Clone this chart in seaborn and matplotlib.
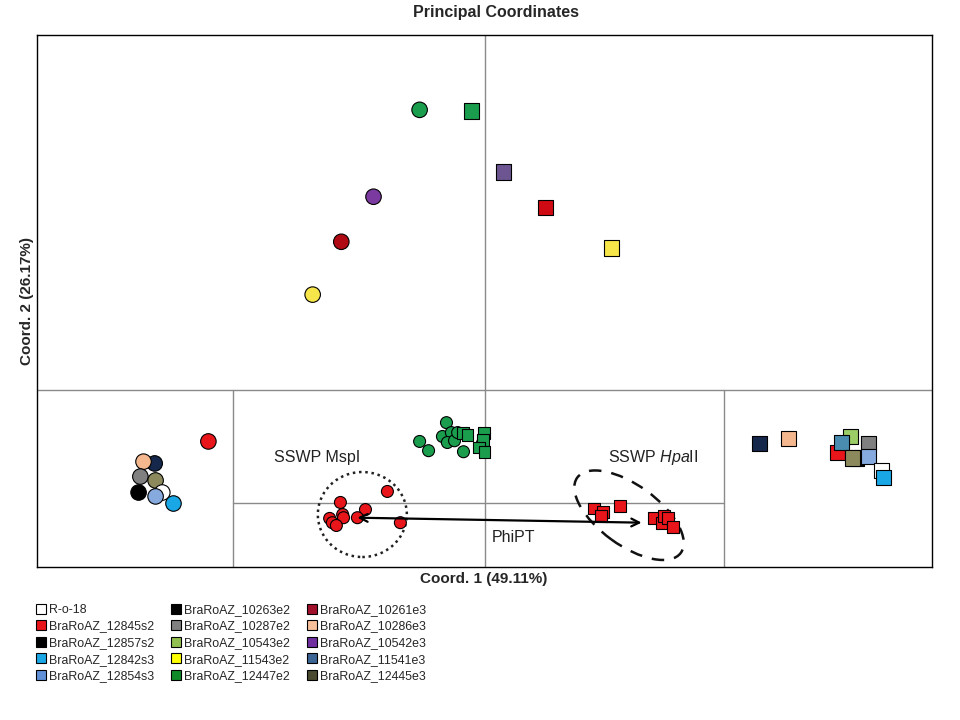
import matplotlib
matplotlib.use("Agg")
import pandas as pd
import seaborn as sns
import matplotlib.pyplot as plt
from matplotlib.lines import Line2D
from matplotlib.patches import Ellipse
from matplotlib import transforms, font_manager

# --- data ---
# upper half: single samples
top_x = [-0.145, -0.248, -0.320, -0.384, -0.029, 0.042, 0.136, 0.284]
top_y = [0.789, 0.544, 0.417, 0.268, 0.786, 0.614, 0.513, 0.400]
top_col = ["green", "purple", "darkred", "yellow", "green", "mauve", "red2", "yellow"]
top_shape = ["o", "o", "o", "o", "s", "s", "s", "s"]

# left group (circles)
left_x = [-0.617, -0.737, -0.762, -0.769, -0.735, -0.773, -0.720, -0.735, -0.695]
left_y = [-0.146, -0.208, -0.203, -0.245, -0.256, -0.290, -0.290, -0.301, -0.321]
left_col = ["red", "navy", "peach", "gray", "olive", "black", "white", "lightblue", "cyan"]

# right group (squares)
right_x = [0.615, 0.679, 0.789, 0.818, 0.798, 0.858, 0.831, 0.822, 0.858, 0.887, 0.892]
right_y = [-0.152, -0.138, -0.177, -0.132, -0.149, -0.152, -0.192, -0.192, -0.189, -0.228, -0.248]
right_col = ["navy", "peach", "red", "lightgreen", "steelblue", "gray", "black", "olive",
             "lightblue", "white", "cyan"]

# green cluster
grn_x = [-0.145, -0.125, -0.085, -0.094, -0.074, -0.083, -0.067, -0.060, -0.047, -0.004, -0.009,
         -0.047, -0.038, -0.002, -0.004, -0.013, 0.000]
grn_y = [-0.146, -0.172, -0.093, -0.132, -0.121, -0.149, -0.144, -0.121, -0.175, -0.149, -0.161,
         -0.121, -0.127, -0.121, -0.141, -0.163, -0.177]
grn_shape = ["o"] * 11 + ["s"] * 6

# SSWP MspI (circles) and HpaII (squares)
msp_x = [-0.217, -0.322, -0.266, -0.317, -0.315, -0.284, -0.346, -0.340, -0.331, -0.188]
msp_y = [-0.287, -0.318, -0.338, -0.352, -0.361, -0.361, -0.363, -0.375, -0.383, -0.375]
hpa_x = [0.244, 0.264, 0.261, 0.302, 0.378, 0.396, 0.402, 0.411, 0.422]
hpa_y = [-0.335, -0.344, -0.355, -0.327, -0.363, -0.375, -0.355, -0.363, -0.386]

palette = {
    "white": "#ffffff", "red": "#e8151b", "red2": "#d00a12", "black": "#000000",
    "cyan": "#1aa7e6", "lightblue": "#86a9de", "navy": "#15274a", "gray": "#808080",
    "lightgreen": "#9ccc65", "yellow": "#f7e64a", "green": "#1a9e4e", "darkred": "#b00a14",
    "peach": "#f5b88e", "purple": "#7b3aa0", "mauve": "#6c5590", "steelblue": "#4a8cb0",
    "olive": "#8c8a5c",
}

leg_labels = ["R-o-18", "BraRoAZ_12845s2", "BraRoAZ_12857s2", "BraRoAZ_12842s3", "BraRoAZ_12854s3",
              "BraRoAZ_10263e2", "BraRoAZ_10287e2", "BraRoAZ_10543e2", "BraRoAZ_11543e2", "BraRoAZ_12447e2",
              "BraRoAZ_10261e3", "BraRoAZ_10286e3", "BraRoAZ_10542e3", "BraRoAZ_11541e3", "BraRoAZ_12445e3"]
leg_colors = ["#ffffff", "#e8151b", "#000000", "#1aa7e6", "#5f90d8",
              "#000000", "#808080", "#92c050", "#ffff00", "#108a28",
              "#a0102a", "#f8c09a", "#7030a0", "#3c6494", "#4a4a30"]

# --- table ---
parts = [
    pd.DataFrame({"x": top_x, "y": top_y, "col": top_col, "shape": top_shape, "sz": "big"}),
    pd.DataFrame({"x": left_x, "y": left_y, "col": left_col, "shape": "o", "sz": "big"}),
    pd.DataFrame({"x": right_x, "y": right_y, "col": right_col, "shape": "s", "sz": "big"}),
    pd.DataFrame({"x": grn_x, "y": grn_y, "col": "green", "shape": grn_shape, "sz": "small"}),
    pd.DataFrame({"x": msp_x, "y": msp_y, "col": "red", "shape": "o", "sz": "small"}),
    pd.DataFrame({"x": hpa_x, "y": hpa_y, "col": "red", "shape": "s", "sz": "small"}),
]
df = pd.concat(parts, ignore_index=True)

sns.set_theme(style="white")
plt.rcParams['font.family'] = ['Liberation Sans', 'DejaVu Sans']
plt.rcParams['mathtext.fontset'] = 'custom'
plt.rcParams['mathtext.rm'] = 'Liberation Sans'
plt.rcParams['mathtext.it'] = 'Liberation Sans:italic'

names = {f.name for f in font_manager.fontManager.ttflist}
narrow = 'Liberation Sans Narrow' if 'Liberation Sans Narrow' in names else 'Liberation Sans'

fig = plt.figure(figsize=(9.6, 7.2), dpi=100)
ax = fig.add_axes([37 / 960, 1 - 567 / 720, 895 / 960, 532 / 720])
ax.set_xlim(-1, 1)
ax.set_ylim(-0.5, 1.0)

# dividing lines
lc = "#8a8a8a"
ax.axhline(0, color=lc, lw=1, zorder=0)
ax.axvline(0, color=lc, lw=1, zorder=0)
ax.plot([-0.562, -0.562], [-0.5, 0], color=lc, lw=1, zorder=0)
ax.plot([0.535, 0.535], [-0.5, 0], color=lc, lw=1, zorder=0)
ax.plot([-0.562, 0.535], [-0.319, -0.319], color=lc, lw=1, zorder=0)

sns.scatterplot(data=df, x="x", y="y", hue="col", palette=palette, style="shape",
                markers={"o": "o", "s": "s"}, size="sz", sizes={"big": 125, "small": 74},
                edgecolor="black", linewidth=0.8, legend=False, ax=ax, zorder=3)

# ellipses around SSWP groups (sizes in inches, centred on data points)
circ = Ellipse((0, 0), 0.89, 0.85, fill=False, ls=(0, (1, 1.5)), lw=1.8, color="#222222",
               transform=fig.dpi_scale_trans + transforms.ScaledTranslation(-0.273, -0.352, ax.transData))
ax.add_patch(circ)
ell = Ellipse((0, 0), 1.28, 0.60, angle=-36, fill=False, ls=(0, (5, 4)), lw=1.8, color="#111111",
              transform=fig.dpi_scale_trans + transforms.ScaledTranslation(0.323, -0.354, ax.transData))
ax.add_patch(ell)

ax.annotate("", xy=(-0.284, -0.361), xytext=(0.351, -0.375),
            arrowprops=dict(arrowstyle="<->", lw=1.6, color="black", mutation_scale=14,
                            shrinkA=0, shrinkB=0), zorder=4)

ax.text(-0.470, -0.192, "SSWP MspI", fontsize=11.5, va="center", ha="left", color="#222222")
ax.text(0.276, -0.192, r"SSWP $\it{Hpa}$II", fontsize=11.5, va="center", ha="left", color="#222222")
ax.text(0.017, -0.417, "PhiPT", fontsize=11.5, va="center", ha="left", color="#222222")

ax.set_xticks([])
ax.set_yticks([])
ax.set_xlabel("")
ax.set_ylabel("")
for sp in ax.spines.values():
    sp.set_color("black")
    sp.set_linewidth(1)

fig.text(496 / 960, 1 - 12 / 720, "Principal Coordinates", ha="center", va="center",
         fontsize=11.5, fontweight="bold", family=narrow)
fig.text(484 / 960, 1 - 579 / 720, "Coord. 1 (49.11%)", ha="center", va="center",
         fontsize=11, fontweight="bold")
fig.text(27 / 960, 1 - 301 / 720, "Coord. 2 (26.17%)", ha="center", va="center",
         fontsize=11, fontweight="bold", rotation=90)

handles = [Line2D([], [], marker="s", ls="none", markerfacecolor=c, markeredgecolor="black",
                  markeredgewidth=0.8, markersize=7) for c in leg_colors]
fig.legend(handles, leg_labels, ncol=3, loc="upper left", bbox_to_anchor=(37 / 960, 1 - 604 / 720),
           frameon=False, fontsize=8.9, handlelength=0.7, handletextpad=0.3,
           columnspacing=1.4, labelspacing=0.37, borderpad=0, borderaxespad=0)

fig.savefig("out.png", dpi=100)
